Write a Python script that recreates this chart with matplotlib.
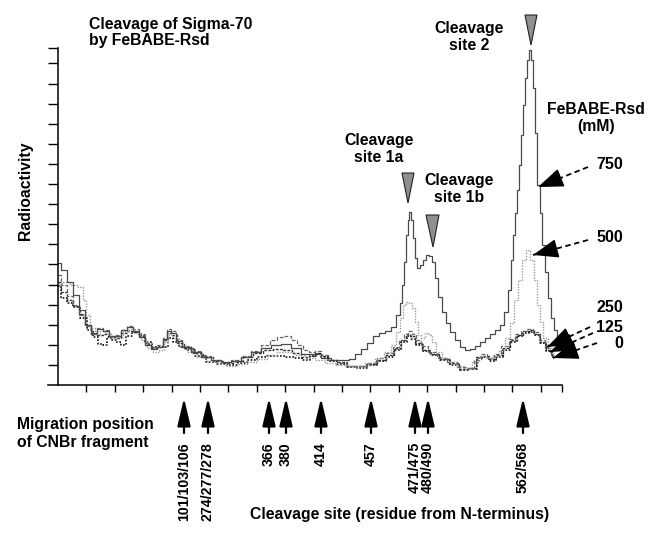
import matplotlib
matplotlib.use("Agg")
import matplotlib.pyplot as plt
from matplotlib.patches import Polygon

plt.rcParams['font.family'] = ['Liberation Sans', 'DejaVu Sans']
plt.rcParams['font.weight'] = 'bold'

# densitometer traces: migration distance (arbitrary units) vs radioactivity (arbitrary units)
x750 = [0, 6, 12, 18, 24, 30, 36, 42, 48, 54, 60, 66, 72, 78, 84, 90, 96, 102, 107, 111,
        115, 120, 128, 138, 148, 158, 168, 178, 188, 198, 208, 218, 228, 238, 248, 258, 268, 278, 288, 294,
        300, 306, 312, 318, 324, 330, 336, 340, 343, 345, 347, 349, 350, 352, 354, 356, 358, 360, 363, 366,
        369, 372, 375, 378, 382, 386, 390, 394, 399, 404, 409, 414, 419, 424, 429, 434, 439, 444, 448, 451,
        454, 456, 458, 460, 462, 464, 466, 468, 470, 472, 474, 476, 478, 480, 483, 485, 488, 491, 494, 497, 500]
y750 = [122, 115, 103, 90, 75, 60, 52, 56, 54, 49, 49, 55, 58, 54, 48, 40, 36, 38, 46, 54,
        52, 44, 38, 33, 28, 25, 23, 24, 28, 33, 37, 40, 41, 37, 31, 31, 27, 25, 25, 26,
        31, 36, 42, 49, 52, 54, 58, 70, 82, 100, 123, 150, 165, 173, 165, 147, 127, 117, 120, 125,
        130, 129, 123, 107, 88, 73, 62, 53, 45, 38, 35, 36, 39, 43, 47, 51, 55, 60, 73, 95,
        125, 150, 172, 195, 220, 250, 280, 307, 325, 335, 325, 297, 252, 200, 172, 140, 113, 87, 67, 55, 47]

x500 = [0, 8, 16, 24, 26, 30, 34, 39, 44, 50, 56, 62, 68, 74, 80, 86, 92, 98, 104, 108,
        112, 117, 124, 134, 144, 154, 164, 174, 184, 194, 204, 214, 224, 232, 242, 252, 262, 272, 282, 292,
        302, 312, 322, 330, 336, 340, 343, 346, 349, 352, 355, 358, 361, 365, 369, 372, 375, 380, 387, 394,
        402, 410, 418, 424, 430, 437, 444, 450, 454, 458, 462, 466, 470, 474, 477, 480, 483, 487, 492, 497]
y500 = [102, 103, 100, 98, 85, 70, 57, 51, 54, 52, 47, 48, 54, 56, 52, 45, 37, 33, 35, 43,
        50, 47, 39, 33, 28, 24, 21, 19, 21, 23, 26, 30, 33, 33, 30, 27, 25, 22, 20, 19,
        19, 22, 27, 33, 40, 53, 67, 80, 83, 82, 77, 63, 50, 47, 52, 50, 43, 33, 27, 23,
        19, 17, 23, 29, 27, 29, 35, 47, 62, 85, 105, 125, 135, 125, 105, 80, 63, 47, 37, 30]

x250 = [0, 6, 12, 18, 24, 30, 36, 42, 48, 54, 60, 66, 72, 78, 84, 90, 96, 102, 107, 111,
        115, 120, 128, 138, 148, 158, 168, 178, 188, 198, 208, 216, 222, 229, 236, 242, 248, 254, 260, 266,
        274, 284, 294, 304, 314, 324, 332, 338, 344, 348, 352, 356, 360, 366, 374, 384, 394, 404, 412, 420,
        426, 432, 439, 447, 454, 460, 466, 472, 478, 484, 490, 495]
y250 = [110, 100, 89, 80, 70, 59, 52, 57, 55, 49, 50, 55, 59, 56, 50, 42, 38, 40, 47, 56,
        54, 45, 39, 34, 29, 25, 23, 25, 29, 34, 40, 45, 48, 49, 45, 40, 35, 33, 34, 30,
        25, 22, 19, 19, 22, 27, 32, 38, 45, 51, 54, 51, 45, 39, 33, 27, 23, 18, 17, 25,
        31, 27, 31, 39, 46, 51, 54, 56, 53, 45, 37, 31]

x125 = [0, 6, 12, 18, 24, 30, 36, 42, 48, 54, 60, 66, 72, 78, 84, 90, 96, 102, 107, 111,
        116, 122, 130, 140, 150, 160, 170, 180, 190, 200, 210, 220, 229, 238, 247, 254, 260, 266, 274, 284,
        294, 304, 314, 324, 332, 340, 346, 350, 354, 360, 368, 376, 386, 396, 406, 414, 422, 428, 434, 441,
        448, 456, 462, 468, 473, 479, 485, 491, 496]
y125 = [103, 93, 85, 79, 71, 60, 51, 50, 51, 48, 47, 52, 54, 53, 49, 41, 37, 38, 45, 52,
        50, 42, 37, 32, 28, 24, 22, 24, 28, 32, 35, 36, 35, 32, 28, 29, 32, 29, 25, 23,
        19, 19, 21, 25, 30, 37, 45, 51, 49, 42, 35, 31, 26, 22, 16, 17, 28, 29, 26, 30,
        37, 45, 50, 54, 55, 51, 43, 35, 29]

x0 = [0, 6, 12, 18, 26, 32, 38, 42, 48, 50, 56, 60, 66, 70, 77, 84, 90, 97, 107, 112,
      117, 124, 132, 142, 154, 164, 174, 184, 194, 204, 214, 224, 232, 240, 248, 255, 260, 266, 274, 284,
      294, 304, 314, 324, 332, 340, 346, 351, 355, 361, 369, 377, 387, 397, 407, 415, 422, 428, 434, 441,
      448, 456, 462, 468, 473, 479, 485, 491, 496]
y0 = [99, 87, 82, 78, 67, 55, 48, 41, 40, 48, 45, 43, 40, 49, 53, 50, 43, 38, 38, 47,
      43, 38, 35, 29, 23, 21, 20, 22, 25, 28, 29, 29, 28, 27, 25, 29, 31, 28, 24, 21,
      18, 17, 20, 24, 28, 35, 43, 49, 46, 40, 34, 30, 25, 20, 15, 16, 27, 28, 24, 28,
      35, 43, 49, 52, 53, 50, 42, 34, 28]

# CNBr fragment markers (migration position) and labels
cnbr_pos = [126, 150, 211, 228, 263, 313, 357, 370, 465]
cnbr_labels = ["101/103/106", "274/277/278", "366", "380", "414", "457", "471/475", "480/490", "562/568"]

W, H = 654, 536
fig = plt.figure(figsize=(W / 100, H / 100), dpi=100)
ax = fig.add_axes([48 / W, 151 / H, 514 / W, 337 / H])


def ftext(x, y, s, **kw):
    kw.setdefault('fontsize', 11.3)
    kw.setdefault('fontweight', 'bold')
    fig.text(x / W, 1 - y / H, s, **kw)


ax.plot(x0, y0, drawstyle='steps-mid', color='#111111', lw=1.2, ls=(0, (1, 1)))
ax.plot(x125, y125, drawstyle='steps-mid', color='#333333', lw=1.0, ls=(0, (2, 1)))
ax.plot(x250, y250, drawstyle='steps-mid', color='#666666', lw=0.9, ls=(0, (3, 1.5)))
ax.plot(x500, y500, drawstyle='steps-mid', color='#9a9a9a', lw=1.0, ls=(0, (1, 1)))
ax.plot(x750, y750, drawstyle='steps-mid', color='#4a4a4a', lw=0.9)

ax.set_xlim(-10, 504)
ax.set_ylim(0, 337)
ax.spines['top'].set_visible(False)
ax.spines['right'].set_visible(False)
ax.spines['left'].set_position(('data', 0))
for s in ('left', 'bottom'):
    ax.spines[s].set_linewidth(1.1)
ax.set_xticks([28.4 * k for k in range(1, 18)] + [504])
ax.set_yticks([20.1 * k for k in range(1, 17)] + [337])
ax.tick_params(axis='x', direction='out', length=5, width=1, labelbottom=False)
ax.tick_params(axis='y', direction='out', length=7.5, width=1, labelleft=False)

# cleavage site triangles
tri = [((467, 370), (479, 370), (473, 340)),
       ((344, 212), (356, 212), (350, 182)),
       ((368, 170), (381, 170), (375, 138))]
for t in tri:
    ax.add_patch(Polygon(t, closed=True, facecolor='#8f8f8f', edgecolor='#222222', lw=0.8,
                         clip_on=False))

# concentration arrows: dashed shaft, solid filled head
conc = [((530, 218), (480, 198)), ((530, 145), (475, 130)),
        ((532, 58), (489, 38)), ((535, 52), (492, 33)), ((539, 42), (495, 27))]
for (sx, sy), (ex, ey) in conc:
    ax.plot([sx, ex], [sy, ey], color='black', lw=1.3, ls=(0, (3, 2)), clip_on=False)
    hx, hy = ex + (sx - ex) * 0.4, ey + (sy - ey) * 0.4
    ax.annotate('', xy=(ex, ey), xytext=(hx, hy), annotation_clip=False,
                arrowprops=dict(arrowstyle='-|>,head_length=1.6,head_width=0.6', mutation_scale=10,
                                color='black', lw=1.0, shrinkA=0, shrinkB=0))

# CNBr arrows below axis
for p, lab in zip(cnbr_pos, cnbr_labels):
    ax.annotate('', xy=(p, -13), xytext=(p, -48), annotation_clip=False,
                arrowprops=dict(arrowstyle='-|>,head_length=1.7,head_width=0.4', mutation_scale=10,
                                color='black', lw=1.6, shrinkA=0, shrinkB=0))
    ftext(p + 58, 442, lab, rotation=90, ha='center', va='top', fontsize=10.2)

ftext(89, 24, "Cleavage of Sigma-70", ha='left', va='center')
ftext(89, 41, "by FeBABE-Rsd", ha='left', va='center')
ftext(25, 191, "Radioactivity", rotation=90, ha='center', va='center')
ftext(469, 29, "Cleavage", ha='center', va='center')
ftext(469, 45, "site 2", ha='center', va='center')
ftext(379, 140, "Cleavage", ha='center', va='center')
ftext(379, 157, "site 1a", ha='center', va='center')
ftext(459, 180, "Cleavage", ha='center', va='center')
ftext(459, 197, "site 1b", ha='center', va='center')
ftext(596, 110, "FeBABE-Rsd", ha='center', va='center')
ftext(596, 127, "(mM)", ha='center', va='center')
for lab, yy in zip(["750", "500", "250", "125", "0"], [165, 238, 308, 327, 343]):
    ftext(623, yy, lab, ha='right', va='center', fontsize=11.5)
ftext(17, 425, "Migration position", ha='left', va='center')
ftext(17, 442, "of CNBr fragment", ha='left', va='center')
ftext(400, 515, "Cleavage site (residue from N-terminus)", ha='center', va='center')

fig.savefig("out.png", dpi=100)
